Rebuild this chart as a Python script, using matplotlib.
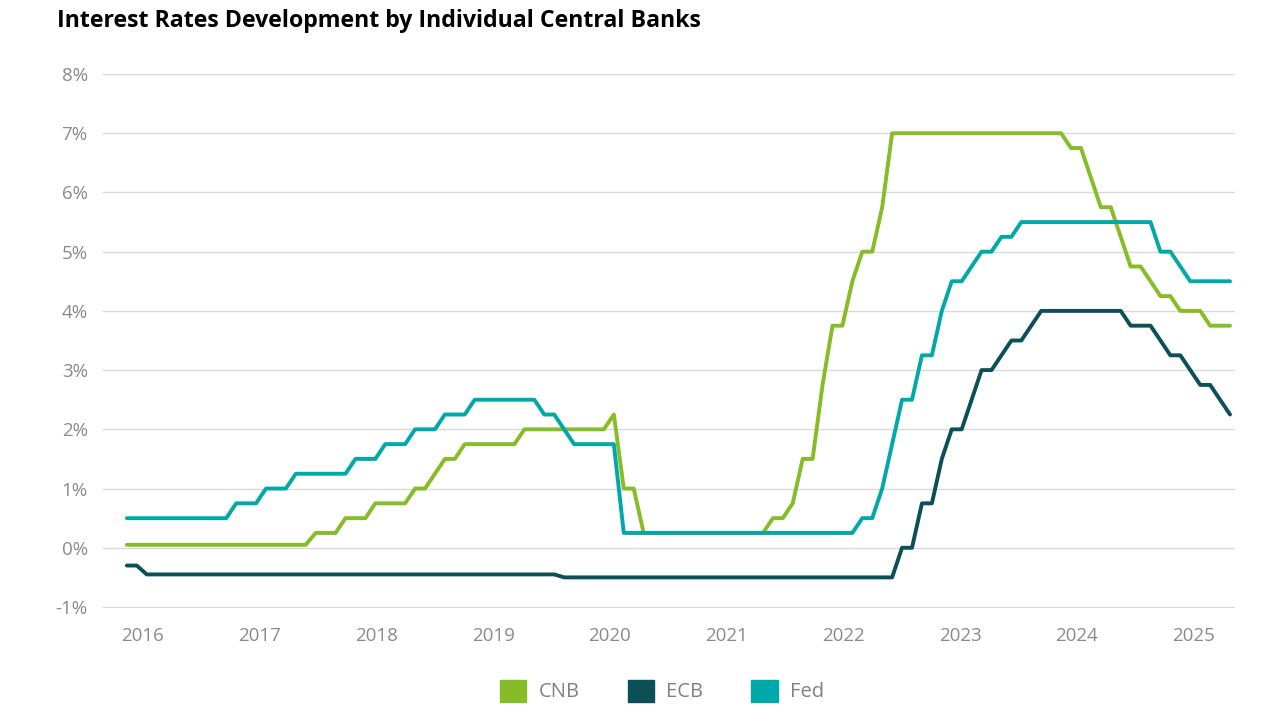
import matplotlib
matplotlib.use("Agg")
import matplotlib.pyplot as plt
from matplotlib.patches import Patch
from matplotlib.ticker import FuncFormatter

plt.rcParams['font.family'] = ['Open Sans', 'DejaVu Sans']

# Monthly (end of month) policy rates, Jan 2016 .. Apr 2025
cnb = (
    [0.05] * 12 +                                                     # 2016
    [0.05] * 7 + [0.25] * 3 + [0.5] * 2 +                             # 2017
    [0.5, 0.75, 0.75, 0.75, 0.75, 1.0, 1.0, 1.25, 1.5, 1.5, 1.75, 1.75] +  # 2018
    [1.75] * 4 + [2.0] * 8 +                                          # 2019
    [2.0, 2.25, 1.0, 1.0] + [0.25] * 8 +                              # 2020
    [0.25] * 5 + [0.5, 0.5, 0.75, 1.5, 1.5, 2.75, 3.75] +             # 2021
    [3.75, 4.5, 5.0, 5.0, 5.75] + [7.0] * 7 +                         # 2022
    [7.0] * 11 + [6.75] +                                             # 2023
    [6.75, 6.25, 5.75, 5.75, 5.25, 4.75, 4.75, 4.5, 4.25, 4.25, 4.0, 4.0] +  # 2024
    [4.0, 3.75, 3.75, 3.75]                                           # 2025
)
ecb = (
    [-0.3, -0.3] + [-0.45] * 10 +                                     # 2016
    [-0.45] * 12 +                                                    # 2017
    [-0.45] * 12 +                                                    # 2018
    [-0.45] * 8 + [-0.5] * 4 +                                        # 2019
    [-0.5] * 12 +                                                     # 2020
    [-0.5] * 12 +                                                     # 2021
    [-0.5] * 6 + [0.0, 0.0, 0.75, 0.75, 1.5, 2.0] +                   # 2022
    [2.0, 2.5, 3.0, 3.0, 3.25, 3.5, 3.5, 3.75] + [4.0] * 4 +          # 2023
    [4.0] * 5 + [3.75] * 3 + [3.5, 3.25, 3.25, 3.0] +                 # 2024
    [2.75, 2.75, 2.5, 2.25]                                           # 2025
)
fed = (
    [0.5] * 11 + [0.75] +                                             # 2016
    [0.75, 0.75, 1.0, 1.0, 1.0] + [1.25] * 6 + [1.5] +                # 2017
    [1.5, 1.5, 1.75, 1.75, 1.75, 2.0, 2.0, 2.0, 2.25, 2.25, 2.25, 2.5] +  # 2018
    [2.5] * 6 + [2.25, 2.25, 2.0, 1.75, 1.75, 1.75] +                 # 2019
    [1.75, 1.75] + [0.25] * 10 +                                      # 2020
    [0.25] * 12 +                                                     # 2021
    [0.25, 0.25, 0.5, 0.5, 1.0, 1.75, 2.5, 2.5, 3.25, 3.25, 4.0, 4.5] +  # 2022
    [4.5, 4.75, 5.0, 5.0, 5.25, 5.25] + [5.5] * 6 +                   # 2023
    [5.5] * 8 + [5.0, 5.0, 4.75, 4.5] +                               # 2024
    [4.5] * 4                                                         # 2025
)
series_names = ["CNB", "ECB", "Fed"]
series_colors = ["#86BC25", "#0B4F57", "#00A9A9"]
year_labels = ["2016", "2017", "2018", "2019", "2020", "2021", "2022", "2023", "2024", "2025"]
y_ticks = [-1, 0, 1, 2, 3, 4, 5, 6, 7, 8]

months = list(range(len(cnb)))

fig = plt.figure(figsize=(12.8, 7.25), dpi=100)
ax = fig.add_axes([103 / 1280, 1 - 608 / 725, (1235 - 103) / 1280, (608 - 74) / 725])

for vals, name, col in zip([cnb, ecb, fed], series_names, series_colors):
    ax.plot(months, vals, color=col, lw=2.8, solid_capstyle='round',
            solid_joinstyle='round', label=name, zorder=3)

ax.set_ylim(-1.017, 8)
ax.set_xlim(-2.4, 111.5)
ax.set_yticks(y_ticks)
ax.yaxis.set_major_formatter(FuncFormatter(lambda v, p: f"{int(v)}%"))
# year labels (spacing)
tick_pos = [1.6 + 11.75 * k for k in range(len(year_labels))]
ax.set_xticks(tick_pos)
ax.set_xticklabels(year_labels)

ax.grid(axis='y', color='#d9d9d9', lw=1.0)
ax.set_axisbelow(True)
for s in ax.spines.values():
    s.set_visible(False)
ax.tick_params(axis='both', length=0, labelsize=13.5, colors='#8a8a8a')
ax.tick_params(axis='y', pad=11)
ax.tick_params(axis='x', pad=14)

fig.text(57 / 1280, 1 - 21 / 725, "Interest Rates Development by Individual Central Banks",
         fontsize=16.7, fontweight='bold', color='#000000', va='center', ha='left')

handles = [Patch(facecolor=c, edgecolor=c, label=n) for n, c in zip(series_names, series_colors)]
fig.legend(handles=handles, loc='center', bbox_to_anchor=(662 / 1280, 1 - 691 / 725), ncol=3,
           frameon=False, fontsize=14.5, labelcolor='#7f7f8a', handlelength=1.3, handleheight=1.3,
           columnspacing=2.4, handletextpad=0.6)

fig.savefig("out.png", dpi=100)
